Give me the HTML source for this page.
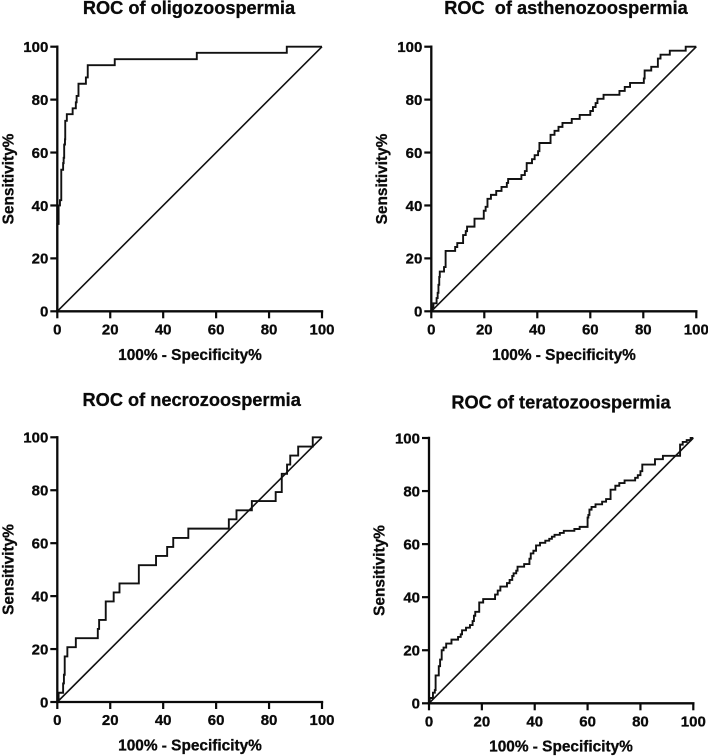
<!DOCTYPE html>
<html lang="en">
<head>
<meta charset="utf-8">
<title>ROC curves</title>
<style>
html,body{margin:0;padding:0;background:#fff;}
body{width:708px;height:756px;overflow:hidden;}
svg{display:block;filter:blur(0.3px);}
text{font-family:"Liberation Sans",Arial,sans-serif;font-weight:bold;fill:#0a0a0a;stroke:#0a0a0a;stroke-width:0.3px;white-space:pre;}
</style>
</head>
<body>
<svg id="figure" width="708" height="756" viewBox="0 0 708 756" xmlns="http://www.w3.org/2000/svg"></svg>
<script>
const tickValues = [0, 20, 40, 60, 80, 100];
const xAxisTitle = "100% - Specificity%";
const yAxisTitle = "Sensitivity%";

const oligoTitle = "ROC of oligozoospermia";
const oligoFpr = [0, 0.5, 1, 1.5, 2.2, 2.4, 2.6, 2.9, 3, 3.6, 5.8, 7, 7.3, 8, 10.8, 11.5, 21.7, 52.7, 86.7, 100];
const oligoSens = [33, 40, 42, 53.5, 56, 58, 63, 65, 72, 74.5, 76.7, 79, 81.4, 86, 88.4, 93, 95.3, 97.7, 100, 100];

const asthenoTitle = "ROC  of asthenozoospermia";
const asthenoFpr = [0.3, 0.8, 2, 2.4, 2.7, 3, 3.2, 4.8, 5.4, 9, 9.8, 12, 13, 13.5, 16.3, 19.8, 20.5, 21.2, 22.5, 24.5, 26.5, 28.5, 29, 34, 35.3, 36, 38, 39, 40.3, 40.8, 45, 46.5, 48, 49.5, 53, 56, 60, 61, 62, 62.7, 65, 71, 73, 75, 80.2, 80.5, 83, 85.5, 86.5, 90, 96, 100];
const asthenoSens = [1.5, 3, 5, 7, 10, 13, 15, 16.7, 22.8, 24.3, 25.8, 28.8, 30.3, 32, 35, 38, 39.5, 42.5, 44, 45.5, 47, 48.5, 50, 51.5, 53, 56, 57.5, 59, 60.5, 63.6, 66.7, 68.2, 69.7, 71.2, 72.7, 74.2, 75.7, 77.2, 78.7, 80.3, 81.8, 83.3, 84.8, 86.3, 88, 91, 92.4, 95.5, 97, 98.5, 100, 100];

const necroTitle = "ROC of necrozoospermia";
const necroFpr = [0.5, 2.2, 2.5, 2.8, 3.8, 7, 15.3, 15.8, 18.3, 21.3, 23.5, 30.8, 37.3, 41.5, 43.8, 49.5, 64.8, 67.7, 73.5, 82.5, 84.8, 86.8, 88, 91, 96.5, 100];
const necroSens = [3.5, 7, 10.3, 17.2, 20.7, 24.1, 27.6, 31, 38, 41.4, 44.8, 51.7, 55.2, 58.6, 62, 65.5, 69, 72.4, 75.9, 79.3, 86.2, 89.7, 93.1, 96.5, 100, 100];

const teratoTitle = "ROC of teratozoospermia";
const teratoFpr = [0.3, 1.5, 2.2, 2.5, 3.7, 4.2, 4.8, 5.5, 6.5, 8.5, 11, 12, 12.5, 14, 15.5, 16.5, 17, 17.5, 19, 20.5, 25, 26, 27, 29.5, 30.5, 31.5, 32, 33, 33.5, 36, 38, 38.5, 39.5, 40.5, 42, 44, 45.5, 46.5, 47.5, 49.5, 51, 55, 57, 60, 60.3, 60.7, 61.5, 63, 65.5, 67, 68.7, 70.5, 72, 74, 78, 79, 80, 80.7, 85.5, 88.5, 95, 96, 97.5, 99, 100];
const teratoSens = [2, 4, 5, 10.5, 14, 16.5, 20, 21, 22.5, 24, 25, 26, 27.5, 28.5, 29.5, 31, 33, 34.5, 38, 39.3, 41, 42.5, 44, 45.3, 46.5, 48, 49, 50, 51.5, 52.5, 54.5, 56.5, 57.5, 59.5, 60.5, 61.3, 62, 62.8, 63.5, 64.2, 65, 65.7, 66.5, 70, 71, 73, 74, 75, 76, 77, 80.5, 82, 83, 84, 85, 86, 87.5, 90, 92, 93.3, 97.5, 98.5, 99.2, 100, 100];

const NS = "http://www.w3.org/2000/svg";
const fig = document.getElementById("figure");

function svgEl(tag, parent) {
  const el = document.createElementNS(NS, tag);
  parent.appendChild(el);
  return el;
}

function drawPanel(slug, title, fpr, sens, box) {
  const sx = v => box.x0 + (box.x1 - box.x0) * v / 100;
  const sy = v => box.y0 + (box.y1 - box.y0) * v / 100;

  const g = svgEl("g", fig);
  
  

  const t = svgEl("text", g);
  
  
  t.setAttribute("x", box.titleX);
  t.setAttribute("y", box.titleY);
  t.setAttribute("text-anchor", "middle");
  t.setAttribute("font-size", "18.2");
  t.textContent = title;

  const xt = svgEl("text", g);
  
  
  xt.setAttribute("x", box.xTitleX);
  xt.setAttribute("y", box.xTitleY);
  xt.setAttribute("text-anchor", "middle");
  xt.setAttribute("font-size", "15.4");
  xt.textContent = xAxisTitle;

  const yt = svgEl("text", g);
  
  
  yt.setAttribute("transform", "translate(" + box.yTitleX + "," + box.yTitleY + ") rotate(-90)");
  yt.setAttribute("text-anchor", "middle");
  yt.setAttribute("font-size", "15.4");
  yt.textContent = yAxisTitle;

  const diag = svgEl("line", g);
  
  
  diag.setAttribute("x1", sx(0));
  diag.setAttribute("y1", sy(0));
  diag.setAttribute("x2", sx(100));
  diag.setAttribute("y2", sy(100));
  diag.setAttribute("stroke", "#111");
  diag.setAttribute("stroke-width", "1.6");

  let d = "M" + sx(0) + " " + sy(0);
  let py = 0;
  for (let i = 0; i < fpr.length; i++) {
    d += "L" + sx(fpr[i]).toFixed(2) + " " + sy(py).toFixed(2);
    d += "L" + sx(fpr[i]).toFixed(2) + " " + sy(sens[i]).toFixed(2);
    py = sens[i];
  }
  const curve = svgEl("path", g);
  
  
  curve.setAttribute("d", d);
  curve.setAttribute("fill", "none");
  curve.setAttribute("stroke", "#111");
  curve.setAttribute("stroke-width", "1.9");

  const xAxis = svgEl("line", g);
  
  
  xAxis.setAttribute("x1", sx(0) - 1.2);
  xAxis.setAttribute("y1", sy(0));
  xAxis.setAttribute("x2", sx(100) + 1.2);
  xAxis.setAttribute("y2", sy(0));
  xAxis.setAttribute("stroke", "#0a0a0a");
  xAxis.setAttribute("stroke-width", "2.3");

  const yAxis = svgEl("line", g);
  
  
  yAxis.setAttribute("x1", sx(0));
  yAxis.setAttribute("y1", sy(0) + 1.2);
  yAxis.setAttribute("x2", sx(0));
  yAxis.setAttribute("y2", sy(100) - 1.2);
  yAxis.setAttribute("stroke", "#0a0a0a");
  yAxis.setAttribute("stroke-width", "2.3");

  tickValues.forEach(v => {
    const xTick = svgEl("line", g);
    
    
    xTick.setAttribute("x1", sx(v));
    xTick.setAttribute("y1", sy(0));
    xTick.setAttribute("x2", sx(v));
    xTick.setAttribute("y2", sy(0) + 7);
    xTick.setAttribute("stroke", "#0a0a0a");
    xTick.setAttribute("stroke-width", "2.2");

    const xLabel = svgEl("text", g);
    
    
    xLabel.setAttribute("x", sx(v));
    xLabel.setAttribute("y", sy(0) + 23);
    xLabel.setAttribute("text-anchor", "middle");
    xLabel.setAttribute("font-size", "15");
    xLabel.textContent = v;

    const yTick = svgEl("line", g);
    
    
    yTick.setAttribute("x1", sx(0));
    yTick.setAttribute("y1", sy(v));
    yTick.setAttribute("x2", sx(0) - 7);
    yTick.setAttribute("y2", sy(v));
    yTick.setAttribute("stroke", "#0a0a0a");
    yTick.setAttribute("stroke-width", "2.2");

    const yLabel = svgEl("text", g);
    
    
    yLabel.setAttribute("x", sx(0) - 9);
    yLabel.setAttribute("y", sy(v) + 5.3);
    yLabel.setAttribute("text-anchor", "end");
    yLabel.setAttribute("font-size", "15");
    yLabel.textContent = v;
  });
}

drawPanel("oligozoospermia", oligoTitle, oligoFpr, oligoSens,
  {x0:57.3, x1:322, y0:311.3, y1:46.7, titleX:189, titleY:14, xTitleX:190, xTitleY:360, yTitleX:13.5, yTitleY:179});
drawPanel("asthenozoospermia", asthenoTitle, asthenoFpr, asthenoSens,
  {x0:431.3, x1:696.3, y0:311.3, y1:46.7, titleX:566, titleY:14, xTitleX:564, xTitleY:360, yTitleX:387, yTitleY:179});
drawPanel("necrozoospermia", necroTitle, necroFpr, necroSens,
  {x0:57.3, x1:322, y0:702, y1:437.3, titleX:191.7, titleY:406, xTitleX:190, xTitleY:750.7, yTitleX:13.5, yTitleY:569.5});
drawPanel("teratozoospermia", teratoTitle, teratoFpr, teratoSens,
  {x0:429, x1:693.3, y0:703.3, y1:438, titleX:561, titleY:408.7, xTitleX:561, xTitleY:751.7, yTitleX:384.7, yTitleY:570.5});
</script>
</body>
</html>
